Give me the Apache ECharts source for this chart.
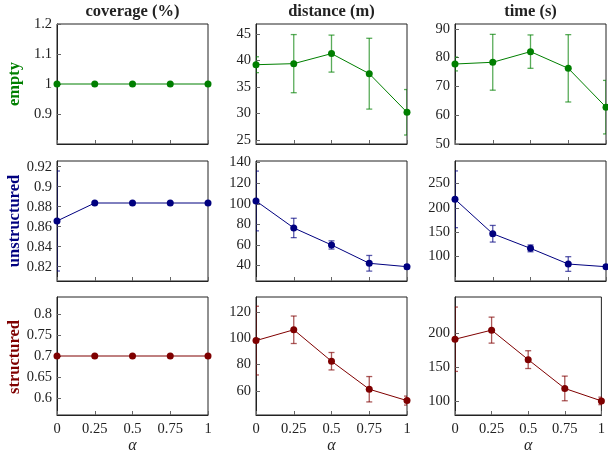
<!DOCTYPE html>
<html>
<head>
<meta charset="utf-8">
<script src="https://cdn.jsdelivr.net/npm/echarts@6/dist/echarts.min.js"></script>
<style>
  html, body { margin: 0; padding: 0; background: #fff; }
  #main { width: 608px; height: 455px; }
</style>
</head>
<body>
<div id="main"></div>
<script>
// alpha values on the x axis
var alphas = [0, 0.25, 0.5, 0.75, 1];
var xTicks = [0, 0.25, 0.5, 0.75, 1];

var columnTitles = ['coverage (%)', 'distance (m)', 'time (s)'];
var rowTitles = ['empty', 'unstructured', 'structured'];

// empty
var emptyCoverage = [1, 1, 1, 1, 1];
var emptyCoverageErr = [0, 0, 0, 0, 0];
var emptyDistance = [39.2, 39.4, 41.3, 37.5, 30.2];
var emptyDistanceErr = [1.5, 5.5, 3.5, 6.7, 4.3];
var emptyTime = [77.8, 78.4, 82.1, 76.3, 62.8];
var emptyTimeErr = [2.4, 9.7, 5.8, 11.7, 9.3];

// unstructured
var unstrCoverage = [0.8657, 0.8837, 0.8837, 0.8837, 0.8837];
var unstrCoverageErr = [0.05, 0, 0, 0, 0];
var unstrDistance = [102.8, 76.6, 60.1, 42.3, 39.0];
var unstrDistanceErr = [29, 9.4, 4, 7.6, 2];
var unstrTime = [217.3, 146.9, 117, 85, 79.5];
var unstrTimeErr = [58, 17, 7, 15, 3];

// structured
var strCoverage = [0.7, 0.7, 0.7, 0.7, 0.7];
var strCoverageErr = [0, 0, 0, 0, 0];
var strDistance = [98.2, 106.4, 82.6, 61.4, 52.8];
var strDistanceErr = [26, 10.4, 6.6, 9.6, 3.4];
var strTime = [191, 204.3, 161.2, 119.1, 100.9];
var strTimeErr = [47, 19, 13, 18, 5.5];

// y tick labels per panel
var yTicksEmpty = [[0.9, 1, 1.1, 1.2], [25, 30, 35, 40, 45], [50, 60, 70, 80, 90]];
var yTicksUnstr = [[0.82, 0.84, 0.86, 0.88, 0.9, 0.92], [40, 60, 80, 100, 120, 140], [100, 150, 200, 250]];
var yTicksStr = [[0.6, 0.65, 0.7, 0.75, 0.8], [60, 80, 100, 120], [100, 150, 200]];

var means = [
  [emptyCoverage, emptyDistance, emptyTime],
  [unstrCoverage, unstrDistance, unstrTime],
  [strCoverage, strDistance, strTime]
];
var errs = [
  [emptyCoverageErr, emptyDistanceErr, emptyTimeErr],
  [unstrCoverageErr, unstrDistanceErr, unstrTimeErr],
  [strCoverageErr, strDistanceErr, strTimeErr]
];
var yTicks = [yTicksEmpty, yTicksUnstr, yTicksStr];

// layout / style
var yRanges = [
  [[0.8, 1.2], [24.2, 46.9], [50, 91.7]],
  [[0.8057, 0.9257], [25.1, 141.6], [50.3, 295.6]],
  [[0.56, 0.84], [41.9, 131.2], [80.3, 252.7]]
];
var rowColors = ['#007f00', '#00007f', '#7f0000'];
var colLeft = [57, 256, 455];
var rowTop = [24, 161, 297];
var plotW = 151, plotH = 120;
var serif = 'Liberation Serif, DejaVu Serif, serif';

var chart = echarts.init(document.getElementById('main'), null, { renderer: 'canvas' });

function errorBar(params, api) {
  var x = api.value(0);
  var lo = api.value(1);
  var hi = api.value(2);
  if (hi - lo <= 0) return null;
  var p1 = api.coord([x, lo]);
  var p2 = api.coord([x, hi]);
  var w = 3;
  var style = { stroke: api.visual('color'), lineWidth: 1.3, opacity: 0.65 };
  return {
    type: 'group',
    children: [
      { type: 'line', shape: { x1: p1[0], y1: p1[1], x2: p2[0], y2: p2[1] }, style: style },
      { type: 'line', shape: { x1: p1[0] - w, y1: p1[1], x2: p1[0] + w, y2: p1[1] }, style: style },
      { type: 'line', shape: { x1: p2[0] - w, y1: p2[1], x2: p2[0] + w, y2: p2[1] }, style: style }
    ]
  };
}

var grids = [], xAxes = [], yAxes = [], series = [], graphics = [];

for (var r = 0; r < 3; r++) {
  for (var c = 0; c < 3; c++) {
    var idx = r * 3 + c;
    grids.push({
      left: colLeft[c], top: rowTop[r], width: plotW, height: plotH,
      show: true, borderColor: '#222', borderWidth: 1
    });
    xAxes.push({
      type: 'value', gridIndex: idx, min: 0, max: 1,
      axisLine: { show: true, onZero: false, lineStyle: { color: '#222', width: 1 } },
      axisTick: { show: true, inside: true, length: 4, customValues: xTicks, lineStyle: { color: '#666' } },
      axisLabel: {
        show: r === 2, customValues: xTicks, color: '#222', fontSize: 14.5,
        fontFamily: serif, margin: 7
      },
      splitLine: { show: false },
      name: r === 2 ? 'α' : '', nameLocation: 'middle', nameGap: 23,
      nameTextStyle: { fontFamily: serif, fontStyle: 'italic', fontSize: 16, color: '#222' }
    });
    yAxes.push({
      type: 'value', gridIndex: idx, min: yRanges[r][c][0], max: yRanges[r][c][1],
      axisLine: { show: true, onZero: false, lineStyle: { color: '#222', width: 1 } },
      axisTick: { show: true, inside: true, length: 4, customValues: yTicks[r][c], lineStyle: { color: '#666' } },
      axisLabel: {
        customValues: yTicks[r][c], color: '#222', fontSize: 14.5,
        fontFamily: serif, margin: 5, showMinLabel: true, showMaxLabel: true
      },
      splitLine: { show: false }
    });

    var m = means[r][c], e = errs[r][c];
    var errData = [], lineData = [];
    for (var i = 0; i < alphas.length; i++) {
      lineData.push([alphas[i], m[i]]);
      errData.push([alphas[i], m[i] - e[i], m[i] + e[i]]);
    }
    series.push({
      type: 'custom', xAxisIndex: idx, yAxisIndex: idx,
      renderItem: errorBar, data: errData, clip: true,
      itemStyle: { color: rowColors[r] }, z: 2,
      encode: { x: 0, y: [1, 2] }
    });
    series.push({
      type: 'line', xAxisIndex: idx, yAxisIndex: idx, data: lineData,
      symbol: 'circle', symbolSize: 7, clip: false, z: 3,
      itemStyle: { color: rowColors[r] },
      lineStyle: { color: rowColors[r], width: 1 },
      emphasis: { disabled: true }, animation: false
    });
  }
}

// column titles
for (var c = 0; c < 3; c++) {
  graphics.push({
    type: 'text', x: colLeft[c] + plotW / 2, y: 12,
    style: {
      text: columnTitles[c], fontFamily: serif, fontWeight: 'bold', fontSize: 16.5,
      fill: '#222', align: 'center', verticalAlign: 'middle'
    }
  });
}
// row titles
for (var r = 0; r < 3; r++) {
  graphics.push({
    type: 'text', x: 15, y: rowTop[r] + plotH / 2, rotation: Math.PI / 2,
    style: {
      text: rowTitles[r], fontFamily: serif, fontWeight: 'bold', fontSize: 16.5,
      fill: rowColors[r], align: 'center', verticalAlign: 'middle'
    }
  });
}

chart.setOption({
  animation: false,
  backgroundColor: '#fff',
  grid: grids,
  xAxis: xAxes,
  yAxis: yAxes,
  series: series,
  graphic: graphics
});
</script>
</body>
</html>
